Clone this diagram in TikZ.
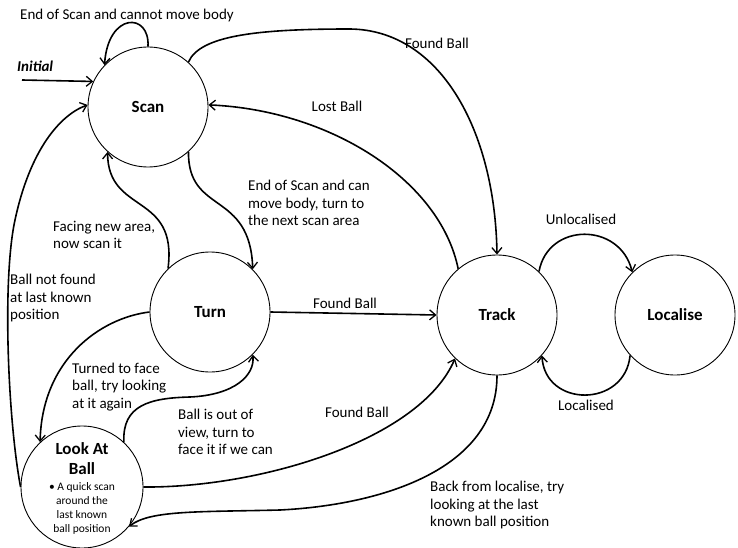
\documentclass[tikz,border=0pt]{standalone}
\usepackage{fontspec}
\setmainfont{Carlito}
\usetikzlibrary{arrows.meta}
\begin{document}
\begin{tikzpicture}[x=1pt,y=-1pt,
  state/.style={circle,draw,line width=0.9pt,minimum size=120pt,inner sep=0pt,font=\fontsize{17}{20}\selectfont\bfseries},
  conn/.style={line width=1.6pt,-{Straight Barb[length=6pt,width=10pt,line width=1.3pt]}},
  lbl/.style={inner sep=0pt,font=\fontsize{15}{17.6}\selectfont},
  lbll/.style={lbl,align=left,anchor=west}]
\useasboundingbox (0,0) rectangle (738,548);
\node[state] (scan) at (148,107) {Scan};
\node[state] (turn) at (210,312) {Turn};
\node[state] (track) at (497,315) {Track};
\node[state] (loc) at (675,315) {Localise};
\node[circle,draw,line width=0.9pt,minimum size=122pt,inner sep=0pt] (lab) at (82,487) {};
\node[align=center,inner sep=0pt,font=\fontsize{17}{20}\selectfont\bfseries] (labt) at (82,459) {Look At\\Ball};
\node[align=center,inner sep=0pt,font=\fontsize{11.5}{14}\selectfont] (labb) at (82,508) {\textbullet\ A quick scan\\around the\\last known\\ball position};
\coordinate (init) at (22,80);
\node[inner sep=0pt,anchor=west,font=\fontsize{15}{18}\selectfont\bfseries\itshape] (initl) at (17,66) {Initial};
% connectors
\draw[conn] (init) -- (scan.155);
\draw[conn] (scan.90) .. controls (150,12) and (108,12) .. (scan.136);
\draw[conn] (scan.48) .. controls (200,35) and (260,29) .. (350,29) .. controls (440,30) and (495,130) .. (track.90);
\draw[conn] (track.130) .. controls (440,180) and (330,110) .. (scan.2);
\draw[conn] (scan.-48) .. controls (188,215) and (250,190) .. (turn.45);
\draw[conn] (turn.134) .. controls (178,192) and (108,215) .. (scan.-132);
\draw[conn] (turn.east) -- (track.west);
\draw[conn] (turn.180) .. controls (100,318) and (42,360) .. (lab.133);
\draw[conn] (lab.47) .. controls (122,405) and (150,398) .. (190,397) .. controls (235,395) and (255,375) .. (turn.-45);
\draw[conn] (lab.180) .. controls (8,420) and (2,280) .. (15,220) .. controls (30,150) and (60,115) .. (scan.178);
\draw[conn] (lab.0) .. controls (260,488) and (420,440) .. (track.-134);
\draw[conn] (track.-90) .. controls (497,470) and (380,505) .. (280,510) .. controls (200,512) and (150,510) .. (lab.-40);
\draw[conn] (track.46) .. controls (548,222) and (620,222) .. (loc.135);
\draw[conn] (loc.-138) .. controls (625,408) and (545,408) .. (track.-42);
% labels
\node[lbl] (l1) at (127,16) {End of Scan and cannot move body};
\node[lbl] (l2) at (437,43) {Found Ball};
\node[lbl] (l3) at (337,106) {Lost Ball};
\node[lbll] (l4) at (248,203) {End of Scan and can\\move body, turn to\\the next scan area};
\node[lbll] (l5) at (53,235) {Facing new area,\\now scan it};
\node[lbll] (l6) at (10,298) {Ball not found\\at last known\\position};
\node[lbl] (l7) at (345,303) {Found Ball};
\node[lbll] (l8) at (72,387) {Turned to face\\ball, try looking\\at it again};
\node[lbll] (l9) at (178,432) {Ball is out of\\view, turn to\\face it if we can};
\node[lbl] (l10) at (357,412) {Found Ball};
\node[lbll] (l11) at (430,505) {Back from localise, try\\looking at the last\\known ball position};
\node[lbl] (l12) at (581,219) {Unlocalised};
\node[lbl] (l13) at (586,405) {Localised};
\end{tikzpicture}
\end{document}
